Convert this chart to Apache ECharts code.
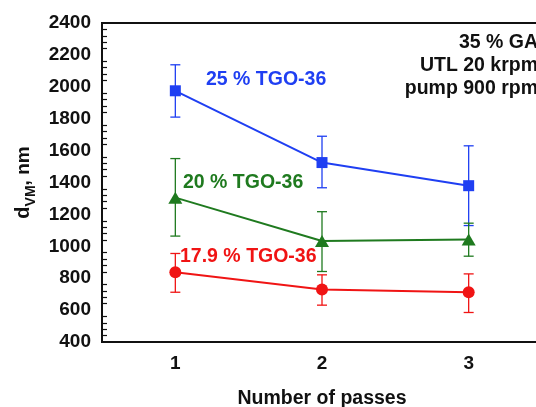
<!DOCTYPE html>
<html>
<head>
<meta charset="utf-8">
<script src="https://cdn.jsdelivr.net/npm/echarts@6/dist/echarts.min.js"></script>
<style>
  html, body { margin: 0; padding: 0; background: #fff; }
  #chart { width: 536px; height: 407px; }
</style>
</head>
<body>
<div id="chart"></div>
<script>
  // number of passes (x categories)
  var passes = ['1', '2', '3'];

  // 25 % TGO-36
  var tgo25 = [1975, 1525, 1380];
  var tgo25Lo = [1810, 1367, 1130];
  var tgo25Hi = [2138, 1690, 1630];

  // 20 % TGO-36
  var tgo20 = [1305, 1033, 1043];
  var tgo20Lo = [1064, 842, 938];
  var tgo20Hi = [1550, 1217, 1145];

  // 17.9 % TGO-36
  var tgo179 = [838, 729, 712];
  var tgo179Lo = [712, 631, 585];
  var tgo179Hi = [955, 821, 827];

  var FONT = 'Liberation Sans, Arial, sans-serif';
  var BLUE = '#1f3ff2';
  var GREEN = '#1f7a1f';
  var RED = '#f01414';

  var chart = echarts.init(document.getElementById('chart'));

  function errData(lo, hi) {
    return lo.map(function (v, i) { return [i, v, hi[i]]; });
  }

  function errSeries(lo, hi, color) {
    return {
      type: 'custom',
      data: errData(lo, hi),
      encode: { x: 0, y: [1, 2] },
      z: 1,
      silent: true,
      renderItem: function (params, api) {
        var x = api.value(0);
        var bot = api.coord([x, api.value(1)]);
        var top = api.coord([x, api.value(2)]);
        var w = 5;
        var style = { stroke: color, lineWidth: 1.3, fill: null };
        return {
          type: 'group',
          children: [
            { type: 'line', shape: { x1: bot[0], y1: top[1], x2: bot[0], y2: bot[1] }, style: style },
            { type: 'line', shape: { x1: bot[0] - w, y1: top[1], x2: bot[0] + w, y2: top[1] }, style: style },
            { type: 'line', shape: { x1: bot[0] - w, y1: bot[1], x2: bot[0] + w, y2: bot[1] }, style: style }
          ]
        };
      }
    };
  }

  function lineSeries(name, data, color, symbol, size) {
    return {
      name: name,
      type: 'line',
      data: data,
      symbol: symbol,
      symbolSize: size,
      z: 3,
      lineStyle: { color: color, width: 2 },
      itemStyle: { color: color, borderWidth: 0 }
    };
  }

  var option = {
    animation: false,
    backgroundColor: '#fff',
    textStyle: { fontFamily: FONT },
    grid: {
      left: 102,
      top: 23,
      right: -6,
      bottom: 65,
      outerBoundsMode: 'none',
      containLabel: false,
      show: true,
      borderColor: '#111',
      borderWidth: 2
    },
    xAxis: {
      type: 'category',
      data: passes,
      boundaryGap: true,
      name: 'Number of passes',
      nameLocation: 'middle',
      nameGap: 47,
      nameTextStyle: { fontSize: 19.5, fontWeight: 'bold', color: '#111', fontFamily: FONT },
      axisLine: { lineStyle: { color: '#111', width: 2 } },
      axisTick: { inside: true, alignWithLabel: true, length: 8, lineStyle: { color: '#111', width: 2 } },
      axisLabel: { fontSize: 19, fontWeight: 'bold', color: '#111', margin: 12, fontFamily: FONT },
      splitLine: { show: false }
    },
    yAxis: {
      type: 'value',
      min: 400,
      max: 2400,
      interval: 200,
      name: '{d|d}{sub|VM}{n|, nm}',
      nameLocation: 'middle',
      nameGap: 56,
      nameRotate: 90,
      nameTextStyle: {
        color: '#111',
        rich: {
          d: { fontSize: 20, fontWeight: 'bold', fontFamily: FONT, lineHeight: 28, color: '#111' },
          sub: { fontSize: 14, fontWeight: 'bold', fontFamily: FONT, lineHeight: 14, verticalAlign: 'bottom', color: '#111' },
          n: { fontSize: 19, fontWeight: 'bold', fontFamily: FONT, lineHeight: 28, color: '#111' }
        }
      },
      axisLine: { show: true, lineStyle: { color: '#111', width: 2 } },
      axisTick: { inside: true, length: 8, lineStyle: { color: '#111', width: 1.5 } },
      minorTick: { show: true, splitNumber: 5, length: 5, lineStyle: { color: '#111', width: 1.2 } },
      axisLabel: {
        fontSize: 19, fontWeight: 'bold', color: '#111', margin: 11, fontFamily: FONT,
        formatter: function (v) { return String(v); }
      },
      splitLine: { show: false }
    },
    series: [
      errSeries(tgo25Lo, tgo25Hi, BLUE),
      errSeries(tgo20Lo, tgo20Hi, GREEN),
      errSeries(tgo179Lo, tgo179Hi, RED),
      lineSeries('25 % TGO-36', tgo25, BLUE, 'rect', 11),
      lineSeries('20 % TGO-36', tgo20, GREEN, 'triangle', [14, 12]),
      lineSeries('17.9 % TGO-36', tgo179, RED, 'circle', 12)
    ],
    graphic: [
      { type: 'text', left: 206, top: 70, style: { text: '25 % TGO-36', fill: BLUE, font: 'bold 19.5px ' + FONT } },
      { type: 'text', left: 183, top: 173, style: { text: '20 % TGO-36', fill: GREEN, font: 'bold 19.5px ' + FONT } },
      { type: 'text', left: 180, top: 247, style: { text: '17.9 % TGO-36', fill: RED, font: 'bold 19.5px ' + FONT } },
      {
        type: 'text', x: 538, y: 31,
        style: {
          text: '35 % GA\nUTL 20 krpm\npump 900 rpm',
          align: 'right',
          fill: '#111',
          lineHeight: 23,
          font: 'bold 19.5px ' + FONT
        }
      }
    ]
  };

  chart.setOption(option);
</script>
</body>
</html>
